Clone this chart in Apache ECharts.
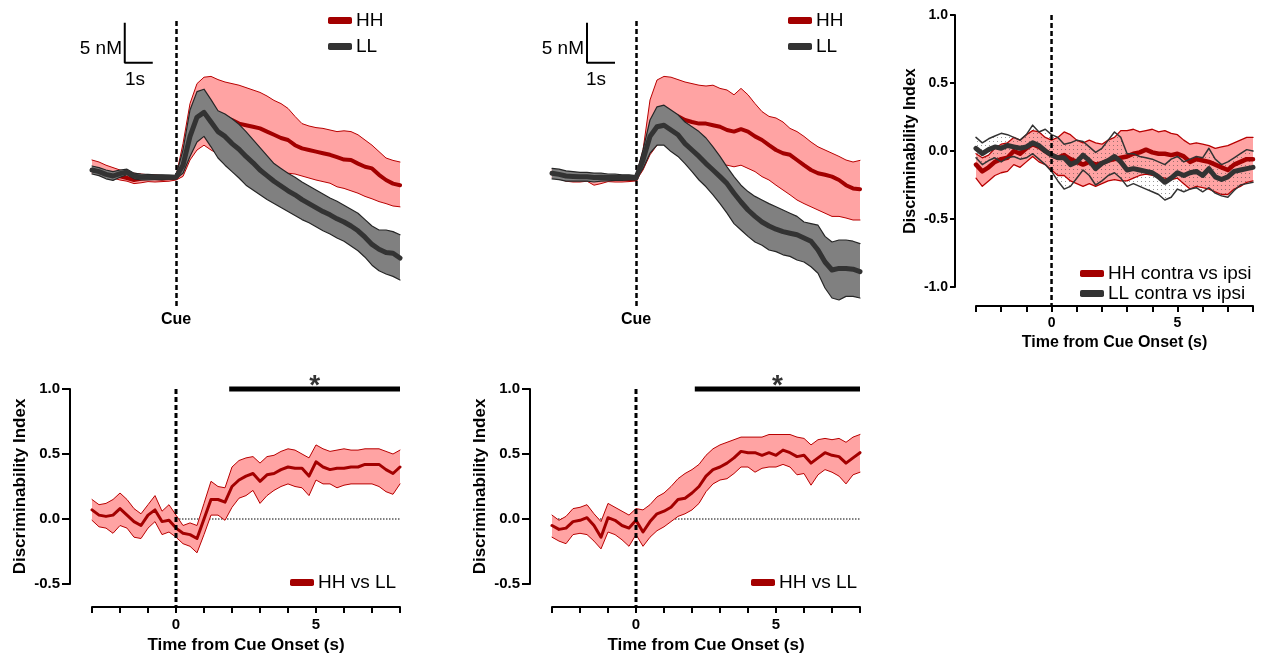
<!DOCTYPE html>
<html><head><meta charset="utf-8">
<script src="https://cdn.jsdelivr.net/npm/echarts@6.0.0/dist/echarts.min.js"></script>
<style>html,body{margin:0;padding:0;background:#fff}#c{width:1267px;height:663px}</style>
</head><body><div id="c"></div>
<script>
// ---------- shared time base (s from cue onset) ----------
const timeSec = [-3,-2.75,-2.5,-2.25,-2,-1.75,-1.5,-1.25,-1,-0.75,-0.5,-0.25,0,0.25,0.5,0.75,1,1.25,1.5,1.75,2,2.25,2.5,2.75,3,3.25,3.5,3.75,4,4.25,4.5,4.75,5,5.25,5.5,5.75,6,6.25,6.5,6.75,7,7.25,7.5,7.75,8];
const xTickLabels = [0, 5];

// ---------- Panel A (top-left) dopamine, nM relative to baseline ----------
const aHHMean  = [1.0,0.8,0.6,0.4,0.2,0.0,-0.25,-0.1,0.0,0.0,-0.1,0.0,0.0,1.4,4.0,6.5,7.7,7.9,7.8,7.6,7.25,6.8,6.6,6.4,6.2,5.8,5.4,5.0,4.75,4.1,3.7,3.5,3.3,3.1,2.9,2.6,2.3,2.25,1.8,1.4,1.2,0.4,-0.25,-0.7,-0.9];
const aHHUpper = [2.25,2.0,1.6,1.3,1.0,0.8,0.6,0.5,0.4,0.4,0.3,0.3,0.2,4.3,9.3,11.8,12.6,12.7,12.3,12.0,11.8,11.6,11.3,11.0,10.7,10.25,9.7,9.3,8.7,7.7,6.8,6.5,6.3,6.2,6.0,5.8,5.9,5.8,5.4,4.75,4.1,3.3,2.5,2.2,2.0];
const aHHLower = [0.6,0.4,0.2,0.0,-0.25,-0.4,-0.7,-0.6,-0.45,-0.5,-0.45,-0.4,-0.25,0.2,2.25,3.5,4.1,3.5,3.0,2.6,2.3,2.0,1.8,1.6,1.4,1.2,1.0,0.9,0.6,0.5,0.25,0.0,-0.25,-0.45,-0.65,-1.1,-1.3,-1.6,-1.9,-2.3,-2.6,-2.95,-3.2,-3.5,-3.6];
const aLLMean  = [1.0,0.8,0.45,0.25,0.55,0.75,0.25,0.1,0.1,0.1,0.1,0.1,0.1,1.6,5.2,7.6,8.2,7.0,5.8,5.2,4.3,3.6,2.7,1.9,1.0,0.3,-0.4,-1.0,-1.6,-2.1,-2.7,-3.2,-3.7,-4.2,-4.6,-5.1,-5.5,-6.0,-6.6,-7.4,-8.3,-8.9,-9.3,-9.4,-10.0];
const aLLUpper = [1.5,1.3,1.0,0.8,1.0,1.1,0.6,0.5,0.45,0.4,0.4,0.35,0.3,3.5,8.5,10.8,11.1,9.8,8.4,8.0,7.4,6.7,5.8,4.8,3.8,2.8,1.8,1.2,0.6,0.1,-0.5,-1.0,-1.5,-2.0,-2.5,-2.9,-3.4,-3.9,-4.4,-5.2,-6.0,-6.5,-6.5,-6.7,-7.1];
const aLLLower = [0.5,0.3,-0.1,-0.3,0.1,0.4,-0.1,-0.25,-0.25,-0.2,-0.2,-0.15,-0.1,0.6,2.7,4.5,5.2,3.9,2.5,1.6,0.8,0.0,-0.9,-1.5,-2.1,-2.7,-3.2,-3.7,-4.2,-4.7,-5.2,-5.6,-6.1,-6.6,-7.0,-7.5,-7.9,-8.5,-9.1,-9.9,-10.9,-11.6,-12.0,-12.3,-12.75];

// ---------- Panel B (top-middle) ----------
const bHHMean  = [0.6,0.5,0.3,0.2,0.0,0.1,-0.25,-0.1,0.0,-0.1,-0.1,-0.15,-0.15,2.25,5.6,8.1,8.7,8.1,7.7,7.25,7.0,6.8,6.8,6.6,6.4,6.0,5.8,6.1,5.8,5.2,4.75,4.1,3.5,3.1,2.9,2.25,1.6,1.0,0.6,0.4,0.17,-0.25,-0.9,-1.3,-1.4];
const bHHUpper = [1.0,0.9,0.7,0.6,0.5,0.6,0.3,0.4,0.4,0.3,0.3,0.2,0.2,3.5,9.75,12.25,12.7,12.6,12.3,12.0,11.8,11.6,11.5,11.6,11.2,11.0,10.4,11.2,10.4,9.3,8.3,7.7,7.5,7.0,6.2,5.8,5.2,4.5,3.9,3.5,3.1,2.7,2.25,2.0,2.2];
const bHHLower = [0.1,-0.1,-0.4,-0.5,-0.5,-0.4,-0.9,-0.7,-0.45,-0.5,-0.5,-0.45,-0.35,1.0,2.9,4.1,4.5,3.9,3.3,2.9,2.5,2.25,2.0,1.8,1.6,1.6,1.4,1.6,1.2,0.8,0.17,-0.25,-0.9,-1.5,-2.1,-2.75,-3.2,-3.6,-4.0,-4.4,-4.8,-4.8,-5.0,-5.25,-5.25];
const bLLMean  = [0.6,0.45,0.25,0.2,0.15,0.15,0.05,0.1,0.05,0.1,0.05,0.05,0.0,2.25,5.2,6.4,6.6,6.0,5.4,4.3,3.5,2.7,1.8,1.0,0.17,-0.7,-1.9,-3.0,-4.0,-4.8,-5.5,-6.0,-6.4,-6.7,-6.9,-7.1,-7.5,-7.9,-9.0,-10.5,-11.5,-11.3,-11.3,-11.4,-11.7];
const bLLUpper = [1.2,1.1,0.9,0.8,0.7,0.7,0.6,0.6,0.5,0.5,0.4,0.4,0.3,3.5,7.25,8.9,9.1,8.5,7.9,7.0,6.4,5.8,5.0,3.9,2.7,1.4,0.17,-0.9,-1.7,-2.3,-2.75,-3.2,-3.6,-4.0,-4.4,-4.8,-5.5,-5.7,-5.9,-7.3,-8.0,-7.75,-7.75,-7.9,-8.2];
const bLLLower = [-0.1,-0.2,-0.4,-0.4,-0.4,-0.4,-0.5,-0.4,-0.35,-0.3,-0.3,-0.25,-0.2,1.2,3.1,4.1,4.1,3.3,2.7,1.8,0.8,-0.25,-1.1,-2.1,-3.2,-4.4,-5.7,-6.5,-7.3,-8.0,-8.4,-9.0,-9.2,-9.6,-9.8,-10.25,-10.5,-11.1,-11.9,-13.75,-15.0,-15.25,-14.8,-14.8,-15.0];

// scale bars: 5 nM vertical, 1 s horizontal
const scaleBarA = [[-1.83,19.4],[-1.83,14.4],[-0.83,14.4]];
const scaleBarB = [[-1.75,19.4],[-1.75,14.4],[-0.75,14.4]];

// ---------- Panel C (top-right) contra vs ipsi discriminability ----------
const cHHMean  = [-0.10,-0.15,-0.12,-0.08,-0.06,-0.05,0.00,-0.02,0.02,0.05,0.03,0.00,-0.03,-0.05,-0.03,-0.06,-0.08,-0.10,-0.08,-0.10,-0.09,-0.07,-0.06,-0.05,-0.04,-0.02,-0.01,0.01,-0.01,-0.02,-0.02,-0.03,-0.02,-0.04,-0.08,-0.06,-0.07,-0.08,-0.10,-0.12,-0.14,-0.10,-0.08,-0.06,-0.06];
const cHHUpper = [-0.02,-0.05,-0.03,0.02,0.05,0.06,0.10,0.08,0.12,0.15,0.14,0.10,0.08,0.10,0.14,0.12,0.08,0.06,0.08,0.06,0.05,0.08,0.10,0.15,0.15,0.16,0.14,0.15,0.16,0.14,0.15,0.13,0.12,0.08,0.05,0.06,0.05,0.04,0.02,0.03,0.04,0.06,0.08,0.10,0.10];
const cHHLower = [-0.20,-0.26,-0.22,-0.18,-0.16,-0.15,-0.10,-0.12,-0.08,-0.04,-0.08,-0.10,-0.14,-0.18,-0.18,-0.22,-0.24,-0.26,-0.24,-0.26,-0.24,-0.22,-0.21,-0.22,-0.22,-0.20,-0.18,-0.17,-0.18,-0.19,-0.20,-0.21,-0.20,-0.24,-0.28,-0.26,-0.27,-0.28,-0.30,-0.32,-0.32,-0.28,-0.26,-0.23,-0.22];
const cLLMean  = [0.02,-0.02,0.01,0.03,0.02,0.04,0.03,0.02,0.03,0.06,0.04,0.00,-0.03,-0.05,-0.05,-0.10,-0.08,-0.03,-0.07,-0.13,-0.09,-0.07,-0.04,-0.08,-0.14,-0.13,-0.14,-0.15,-0.16,-0.19,-0.23,-0.20,-0.16,-0.18,-0.16,-0.15,-0.18,-0.13,-0.19,-0.21,-0.19,-0.15,-0.14,-0.13,-0.12];
const cLLUpper = [0.10,0.06,0.09,0.11,0.13,0.12,0.10,0.08,0.12,0.19,0.14,0.16,0.12,0.10,0.05,0.06,0.08,0.07,0.03,-0.01,0.02,0.08,0.14,0.10,-0.02,-0.02,-0.04,-0.05,-0.06,-0.08,-0.10,-0.06,-0.04,-0.08,-0.06,-0.04,-0.05,0.02,-0.06,-0.10,-0.08,-0.05,-0.02,0.01,0.00];
const cLLLower = [-0.05,-0.10,-0.07,-0.05,-0.08,-0.05,-0.04,-0.06,-0.05,-0.02,-0.06,-0.10,-0.15,-0.22,-0.28,-0.26,-0.20,-0.14,-0.18,-0.25,-0.22,-0.18,-0.16,-0.20,-0.26,-0.24,-0.26,-0.28,-0.30,-0.32,-0.36,-0.34,-0.28,-0.30,-0.28,-0.27,-0.30,-0.27,-0.31,-0.33,-0.34,-0.29,-0.25,-0.24,-0.23];

// ---------- Panel D (bottom-left) HH vs LL ----------
const dMean  = [0.07,0.03,0.02,0.03,0.08,0.03,-0.02,-0.05,0.03,0.07,-0.02,-0.01,-0.07,-0.11,-0.12,-0.15,0.0,0.15,0.15,0.13,0.25,0.30,0.33,0.35,0.29,0.34,0.35,0.38,0.40,0.39,0.39,0.33,0.44,0.40,0.38,0.39,0.39,0.40,0.40,0.42,0.42,0.42,0.38,0.35,0.40];
const dUpper = [0.15,0.11,0.12,0.15,0.20,0.15,0.08,0.04,0.11,0.18,0.06,0.11,0.03,-0.05,-0.03,-0.05,0.12,0.29,0.25,0.24,0.40,0.45,0.47,0.48,0.43,0.48,0.49,0.52,0.54,0.53,0.50,0.47,0.57,0.54,0.52,0.53,0.54,0.53,0.53,0.54,0.54,0.54,0.52,0.50,0.53];
const dLower = [-0.01,-0.06,-0.07,-0.11,-0.05,-0.07,-0.14,-0.15,-0.07,-0.02,-0.12,-0.10,-0.14,-0.19,-0.21,-0.26,-0.12,0.03,0.03,-0.01,0.09,0.16,0.18,0.22,0.12,0.18,0.22,0.25,0.27,0.25,0.24,0.18,0.30,0.27,0.27,0.24,0.26,0.27,0.27,0.27,0.27,0.25,0.21,0.19,0.27];
const sigBarD = [1.9, 8];

// ---------- Panel E (bottom-middle) HH vs LL ----------
const eMean  = [-0.05,-0.08,-0.07,-0.02,-0.01,0.01,-0.05,-0.14,0.01,-0.01,-0.05,-0.07,-0.01,-0.10,-0.02,0.04,0.06,0.09,0.15,0.16,0.20,0.25,0.33,0.38,0.40,0.43,0.47,0.52,0.51,0.51,0.49,0.51,0.49,0.53,0.51,0.48,0.49,0.43,0.47,0.51,0.49,0.48,0.43,0.47,0.51];
const eUpper = [0.03,-0.01,0.02,0.08,0.09,0.11,0.04,-0.02,0.12,0.09,0.06,0.03,0.08,0.07,0.11,0.17,0.20,0.25,0.31,0.35,0.38,0.42,0.49,0.54,0.57,0.59,0.61,0.63,0.63,0.63,0.63,0.65,0.65,0.65,0.65,0.63,0.62,0.57,0.61,0.62,0.61,0.62,0.59,0.63,0.65];
const eLower = [-0.14,-0.17,-0.19,-0.12,-0.11,-0.12,-0.17,-0.23,-0.10,-0.12,-0.16,-0.21,-0.12,-0.21,-0.14,-0.09,-0.06,-0.02,0.02,0.04,0.07,0.12,0.21,0.27,0.30,0.31,0.35,0.40,0.40,0.36,0.39,0.40,0.40,0.42,0.40,0.34,0.35,0.26,0.34,0.38,0.36,0.33,0.27,0.34,0.36];
const sigBarE = [2.1, 8];

// vertical cue-line spans (DI units) down to the offset x axis
const cueSpanDI = [1.0, -0.68];
const cueSpanC  = [1.0, -1.14];

// ---------- styling ----------
const FONT = '"Liberation Sans", Arial, sans-serif';
const RED = '#a30000', RED_EDGE = '#b80000', PINK = '#ffa3a3';
const DARK = '#333333', GRAY_FILL = '#808080', GRAY_EDGE = '#262626';

const pat = document.createElement('canvas');
pat.width = 4; pat.height = 4;
const pctx = pat.getContext('2d');
pctx.fillStyle = 'rgba(70,70,70,0.55)';
pctx.fillRect(1, 1, 1, 1);
const DOTS = { image: pat, repeat: 'repeat' };

function pts(arr) { return timeSec.map((t, i) => [t, arr[i]]); }
function line(gi, arr, color, width, z, name) {
  const s = { type: 'line', xAxisIndex: gi, yAxisIndex: gi, data: pts(arr), symbol: 'none', showSymbol: false,
    lineStyle: { color, width, cap: 'round', join: 'round' }, itemStyle: { color }, color, z, silent: true, animation: false };
  if (name) s.name = name;
  return s;
}
function band(gi, up, lo, fill, z) {
  return { type: 'custom', xAxisIndex: gi, yAxisIndex: gi, data: [[timeSec[0], up[0]]], z, silent: true, animation: false,
    renderItem: (p, api) => {
      const P = [];
      for (let i = 0; i < timeSec.length; i++) P.push(api.coord([timeSec[i], up[i]]));
      for (let i = timeSec.length - 1; i >= 0; i--) P.push(api.coord([timeSec[i], lo[i]]));
      return { type: 'polygon', shape: { points: P }, style: { fill, stroke: null } };
    } };
}
function segLine(gi, data, style, z) {
  return { type: 'line', xAxisIndex: gi, yAxisIndex: gi, data, symbol: 'none', clip: false, silent: true, animation: false,
    lineStyle: style, z };
}

function hiddenX(gi) { return { type: 'value', gridIndex: gi, min: -3, max: 8, show: false }; }
function hiddenY(gi) { return { type: 'value', gridIndex: gi, min: -16, max: 20, show: false }; }
function diX(gi, offset, nameGap, nameSize, labelSize) {
  return { type: 'value', gridIndex: gi, min: -3, max: 8, interval: 1, position: 'bottom', offset,
    axisLine: { show: true, onZero: false, lineStyle: { color: '#000', width: 2 } },
    axisTick: { show: true, length: 6, lineStyle: { color: '#000', width: 2 } },
    axisLabel: { formatter: v => xTickLabels.includes(v) ? String(v) : '', fontFamily: FONT, fontWeight: 'bold', fontSize: labelSize, color: '#000', margin: 10 },
    splitLine: { show: false },
    name: 'Time from Cue Onset (s)', nameLocation: 'middle', nameGap, nameMoveOverlap: false,
    nameTextStyle: { fontFamily: FONT, fontWeight: 'bold', fontSize: nameSize, color: '#000' } };
}
function diY(gi, min, offset, nameGap, nameSize, labelSize, tickLen) {
  return { type: 'value', gridIndex: gi, min, max: 1, interval: 0.5, position: 'left', offset,
    axisLine: { show: true, onZero: false, lineStyle: { color: '#000', width: 2 } },
    axisTick: { show: true, length: tickLen, lineStyle: { color: '#000', width: 2 } },
    axisLabel: { formatter: v => v.toFixed(1), fontFamily: FONT, fontWeight: 'bold', fontSize: labelSize, color: '#000', margin: tickLen + 2 },
    splitLine: { show: false },
    name: 'Discriminability Index', nameLocation: 'middle', nameGap, nameMoveOverlap: false,
    nameTextStyle: { fontFamily: FONT, fontWeight: 'bold', fontSize: nameSize, color: '#000' } };
}
function legend(names, left, top, gap) {
  return { data: names, left, top, orient: 'vertical', padding: 0, itemGap: gap, icon: 'roundRect',
    itemWidth: 24, itemHeight: 7, selectedMode: false,
    textStyle: { fontFamily: FONT, fontSize: 19, color: '#000', lineHeight: 19, padding: [0, 0, 0, -1] } };
}

const cueMark = {
  silent: true, symbol: ['none', 'none'], animation: false,
  lineStyle: { color: '#000', width: 2.5, type: [5, 3] },
  label: { show: true, position: 'start', formatter: 'Cue', fontFamily: FONT, fontWeight: 'bold', fontSize: 16, color: '#000', distance: 6 },
  data: [{ xAxis: 0 }]
};

const series = [];
// Panel A (0) and B (1)
[[0, aHHMean, aHHUpper, aHHLower, aLLMean, aLLUpper, aLLLower, scaleBarA],
 [1, bHHMean, bHHUpper, bHHLower, bLLMean, bLLUpper, bLLLower, scaleBarB]].forEach(([g, hm, hu, hl, lm, lu, ll, sb]) => {
  series.push(band(g, hu, hl, PINK, 1));
  series.push(line(g, hu, RED_EDGE, 1, 2));
  series.push(line(g, hl, RED_EDGE, 1, 2));
  series.push(line(g, hm, RED, 4, 3, 'HH'));
  series.push(band(g, lu, ll, GRAY_FILL, 4));
  series.push(line(g, lu, GRAY_EDGE, 1.2, 5));
  series.push(line(g, ll, GRAY_EDGE, 1.2, 5));
  const m = line(g, lm, DARK, 5, 6, 'LL');
  m.markLine = cueMark;
  series.push(m);
  series.push(segLine(g, sb, { color: '#000', width: 2 }, 7));
});
// Panel C (2)
series.push(segLine(2, [[-3, 0], [8, 0]], { color: '#777', width: 1, type: [2, 2] }, 0));
series.push(band(2, cHHUpper, cHHLower, PINK, 1));
series.push(line(2, cHHUpper, RED_EDGE, 1.3, 2));
series.push(line(2, cHHLower, RED_EDGE, 1.3, 2));
series.push(band(2, cLLUpper, cLLLower, DOTS, 3));
series.push(line(2, cHHMean, RED, 4.5, 4, 'HH contra vs ipsi'));
series.push(line(2, cLLUpper, DARK, 1.5, 5));
series.push(line(2, cLLLower, DARK, 1.5, 5));
series.push(line(2, cLLMean, DARK, 5, 6, 'LL contra vs ipsi'));
series.push(segLine(2, [[0, cueSpanC[0]], [0, cueSpanC[1]]], { color: '#000', width: 2.5, type: [5, 3] }, 7));
// Panels D (3) and E (4)
[[3, dMean, dUpper, dLower, sigBarD], [4, eMean, eUpper, eLower, sigBarE]].forEach(([g, m, u, l, sig]) => {
  series.push(segLine(g, [[-3, 0], [8, 0]], { color: '#000', width: 1, type: [1.5, 1.5] }, 0));
  series.push(band(g, u, l, PINK, 1));
  series.push(line(g, u, RED_EDGE, 1, 2));
  series.push(line(g, l, RED_EDGE, 1, 2));
  series.push(line(g, m, RED, 3, 3, 'HH vs LL'));
  series.push(segLine(g, [[0, cueSpanDI[0]], [0, cueSpanDI[1]]], { color: '#000', width: 3, type: [5, 3] }, 5));
  series.push(segLine(g, [[sig[0], 1], [sig[1], 1]], { color: '#000', width: 5 }, 5));
  series.push({ type: 'scatter', xAxisIndex: g, yAxisIndex: g, data: [[(sig[0] + sig[1]) / 2, 1]], symbolSize: 1,
    itemStyle: { color: 'rgba(0,0,0,0)' }, silent: true, animation: false, clip: false, z: 6,
    label: { show: true, formatter: '*', position: 'inside', offset: [0, -3], fontFamily: FONT, fontWeight: 'bold', fontSize: 28, color: '#000' } });
});

const option = {
  animation: false,
  backgroundColor: '#fff',
  grid: [
    { left: 92, top: 18, width: 308, height: 288, containLabel: false, outerBoundsMode: 'none' },
    { left: 552, top: 18, width: 308, height: 288, containLabel: false, outerBoundsMode: 'none' },
    { left: 976, top: 15, width: 277, height: 272, containLabel: false, outerBoundsMode: 'none' },
    { left: 92, top: 389, width: 308, height: 195, containLabel: false, outerBoundsMode: 'none' },
    { left: 552, top: 389, width: 308, height: 195, containLabel: false, outerBoundsMode: 'none' }
  ],
  xAxis: [hiddenX(0), hiddenX(1), diX(2, 19, 29, 16, 14), diX(3, 23, 30, 17, 15), diX(4, 23, 30, 17, 15)],
  yAxis: [hiddenY(0), hiddenY(1), diY(2, -1, 21, 36, 16, 14, 5), diY(3, -0.5, 22, 41, 17, 15, 8), diY(4, -0.5, 22, 41, 17, 15, 8)],
  legend: [
    legend(['HH', 'LL'], 328, 11, 7),
    legend(['HH', 'LL'], 788, 11, 7),
    legend(['HH contra vs ipsi', 'LL contra vs ipsi'], 1080, 264, 1),
    legend(['HH vs LL'], 290, 573, 5),
    legend(['HH vs LL'], 751, 573, 5)
  ],
  graphic: [
    { type: 'text', x: 122, y: 49, silent: true, style: { text: '5 nM', align: 'right', verticalAlign: 'middle', font: '19px ' + FONT, fill: '#000' } },
    { type: 'text', x: 135, y: 80, silent: true, style: { text: '1s', align: 'center', verticalAlign: 'middle', font: '19px ' + FONT, fill: '#000' } },
    { type: 'text', x: 584, y: 49, silent: true, style: { text: '5 nM', align: 'right', verticalAlign: 'middle', font: '19px ' + FONT, fill: '#000' } },
    { type: 'text', x: 596, y: 80, silent: true, style: { text: '1s', align: 'center', verticalAlign: 'middle', font: '19px ' + FONT, fill: '#000' } }
  ],
  series
};
const chart = echarts.init(document.getElementById('c'), null, { renderer: 'canvas' });
chart.setOption(option);
</script>
</body></html>
